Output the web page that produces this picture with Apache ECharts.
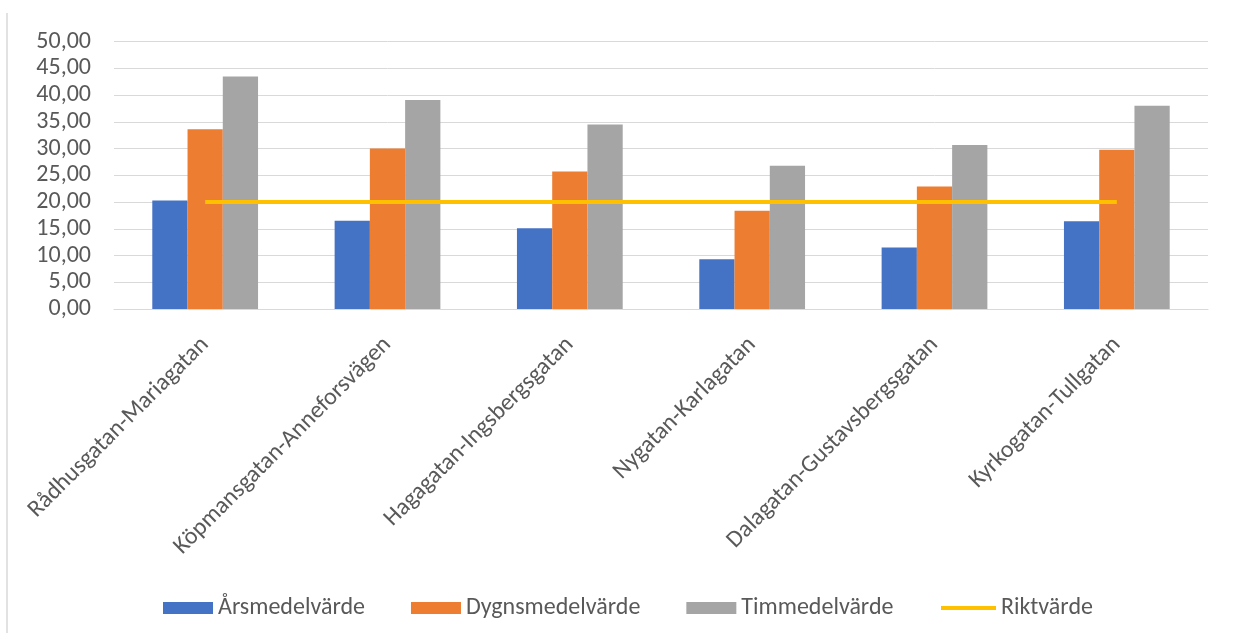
<!DOCTYPE html>
<html>
<head>
<meta charset="utf-8">
<title>Luftkvalitet per korsning</title>
<script src="https://cdn.jsdelivr.net/npm/echarts@6/dist/echarts.min.js"></script>
<style>
  html, body { margin: 0; padding: 0; background: #ffffff; }
  #chart { width: 1233px; height: 633px; }
</style>
</head>
<body>
<div id="chart"></div>
<script>
// Mätplatser (korsningar)
const categories = [
  'Rådhusgatan-Mariagatan',
  'Köpmansgatan-Anneforsvägen',
  'Hagagatan-Ingsbergsgatan',
  'Nygatan-Karlagatan',
  'Dalagatan-Gustavsbergsgatan',
  'Kyrkogatan-Tullgatan'
];

// Uppmätta värden per mätplats
const arsmedelvarde   = [20.3, 16.5, 15.1, 9.3, 11.5, 16.4];
const dygnsmedelvarde = [33.6, 30.0, 25.7, 18.4, 22.9, 29.8];
const timmedelvarde   = [43.5, 39.1, 34.5, 26.8, 30.7, 38.0];
const riktvarde       = [20, 20, 20, 20, 20, 20];

// Y-axelns skala
const yMin = 0;
const yMax = 50;
const yStep = 5;

const FONT = 'Carlito, Lato, "Open Sans", sans-serif';
const FONT_SIZE = 24;
const TEXT_COLOR = '#595959';
const GRID_COLOR = '#d9d9d9';

const chart = echarts.init(document.getElementById('chart'), null, { renderer: 'canvas' });

const legendText = { fontFamily: FONT, fontSize: FONT_SIZE, color: TEXT_COLOR };

const option = {
  backgroundColor: '#ffffff',
  animation: false,
  textStyle: { fontFamily: FONT, color: TEXT_COLOR },
  grid: { left: 114, right: 25, top: 41.7, bottom: 324, containLabel: false },
  graphic: [{
    type: 'line',
    shape: { x1: 7, y1: 13, x2: 7, y2: 633 },
    style: { stroke: GRID_COLOR, lineWidth: 1.5 },
    silent: true
  }],
  legend: [
    {
      // staplarnas förklaring
      left: 158,
      top: 591,
      itemWidth: 50,
      itemHeight: 12,
      itemGap: 46,
      textStyle: legendText,
      data: [
        { name: 'Årsmedelvärde', icon: 'rect' },
        { name: 'Dygnsmedelvärde', icon: 'rect' },
        { name: 'Timmedelvärde', icon: 'rect' }
      ]
    },
    {
      // riktvärdeslinjens förklaring
      left: 936,
      top: 591,
      itemWidth: 55,
      itemHeight: 4,
      textStyle: legendText,
      data: [{ name: 'Riktvärde', icon: 'rect' }]
    }
  ],
  xAxis: {
    type: 'category',
    data: categories,
    boundaryGap: true,
    axisLine: { show: true, lineStyle: { color: GRID_COLOR, width: 1 } },
    axisTick: { show: false },
    axisLabel: {
      interval: 0,
      rotate: 45,
      margin: 32,
      padding: [0, 0, 8, 0],
      fontFamily: FONT,
      fontSize: FONT_SIZE,
      color: TEXT_COLOR
    }
  },
  yAxis: {
    type: 'value',
    min: yMin,
    max: yMax,
    interval: yStep,
    axisLine: { show: false },
    axisTick: { show: false },
    splitLine: { lineStyle: { color: GRID_COLOR, width: 1 } },
    axisLabel: {
      margin: 23,
      fontFamily: FONT,
      fontSize: FONT_SIZE,
      color: TEXT_COLOR,
      formatter: v => v.toFixed(2).replace('.', ',')
    }
  },
  series: [
    {
      name: 'Årsmedelvärde',
      type: 'bar',
      data: arsmedelvarde,
      barGap: '0%',
      barCategoryGap: '42%',
      itemStyle: { color: '#4472C4' }
    },
    {
      name: 'Dygnsmedelvärde',
      type: 'bar',
      data: dygnsmedelvarde,
      barGap: '0%',
      barCategoryGap: '42%',
      itemStyle: { color: '#ED7D31' }
    },
    {
      name: 'Timmedelvärde',
      type: 'bar',
      data: timmedelvarde,
      barGap: '0%',
      barCategoryGap: '42%',
      itemStyle: { color: '#A5A5A5' }
    },
    {
      name: 'Riktvärde',
      type: 'line',
      data: riktvarde,
      symbol: 'none',
      z: 5,
      lineStyle: { color: '#FFC000', width: 4 },
      itemStyle: { color: '#FFC000' }
    }
  ]
};

chart.setOption(option);
</script>
</body>
</html>
